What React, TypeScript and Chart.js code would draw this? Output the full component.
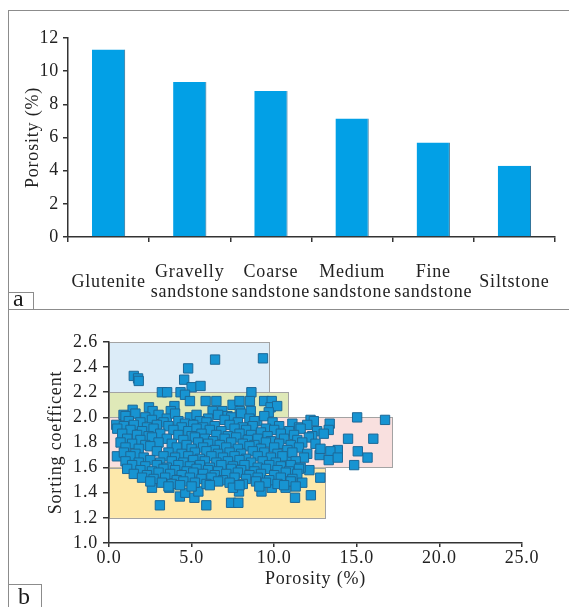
import React, { useEffect, useRef } from 'react';
import { Chart, registerables } from 'chart.js';

Chart.register(...registerables);

const FONT = '"Liberation Serif", "Times New Roman", serif';
const TEXT = '#222222';
const AXIS = '#333333';

// ---------- Panel a data ----------
const rockTypes: string[][] = [
  ['Glutenite'],
  ['Gravelly', 'sandstone'],
  ['Coarse', 'sandstone'],
  ['Medium', 'sandstone'],
  ['Fine', 'sandstone'],
  ['Siltstone'],
];
const meanPorosity = [11.3, 9.35, 8.8, 7.15, 5.7, 4.3];
const porosityBarTicks = [0, 2, 4, 6, 8, 10, 12];

// ---------- Panel b data ----------
const porosityAxisTicks = [0, 5, 10, 15, 20, 25];
const sortingAxisTicks = [1.0, 1.2, 1.4, 1.6, 1.8, 2.0, 2.2, 2.4, 2.6];

const zoneMaxPorosity = [9.7, 10.85, 17.15, 13.1];
const zoneMinSorting = [2.2, 2.0, 1.6, 1.2];
const zoneMaxSorting = [2.6, 2.2, 2.0, 1.6];

const samplePoints: [number, number][] = [
  // scattered upper / outer samples
  [1.5, 2.33], [1.76, 2.31], [1.8, 2.29], [6.42, 2.46], [9.32, 2.47], [4.79, 2.39],
  [4.55, 2.3], [5.0, 2.24], [5.54, 2.25], [3.2, 2.2], [3.52, 2.2], [4.33, 2.2],
  [4.6, 2.18], [4.9, 2.13], [5.85, 2.13], [6.5, 2.13], [8.62, 2.2], [7.48, 2.1],
  [7.9, 2.13], [8.53, 2.13], [9.39, 2.13], [9.85, 2.13], [9.78, 2.08], [10.18, 2.09],
  [9.67, 2.04], [3.96, 2.09], [3.74, 2.05], [2.42, 2.08], [2.64, 2.05], [1.43, 2.06],
  [6.27, 2.05], [6.86, 2.05], [7.92, 2.05], [8.58, 2.05], [7.17, 2.01], [8.97, 1.97],
  [0.88, 2.02], [15.02, 2.0], [16.71, 1.98], [12.2, 1.98], [13.36, 1.95], [13.3, 1.9],
  [14.47, 1.83], [16.0, 1.83], [15.06, 1.73], [15.65, 1.68], [14.84, 1.62], [13.85, 1.74],
  [13.4, 1.73], [12.75, 1.7], [13.3, 1.66], [13.85, 1.68], [12.13, 1.58], [12.79, 1.52],
  [12.22, 1.38], [11.26, 1.36], [3.08, 1.3], [5.89, 1.3], [7.39, 1.32], [7.83, 1.32],
  [4.29, 1.37], [4.62, 1.4], [5.17, 1.36], [5.41, 1.41], [2.6, 1.44], [3.65, 1.44],
  [7.87, 1.41], [9.23, 1.41], [9.85, 1.44], [10.69, 1.44], [10.77, 1.66], [0.48, 1.69],
  [0.44, 1.94],
  // main cluster
  [1.0, 2.01], [1.6, 2.03], [2.2, 2.0], [3.0, 2.02], [3.5, 1.99], [4.0, 2.03], [4.9, 2.0],
  [5.3, 2.02], [6.0, 1.99], [6.6, 2.02], [7.4, 2.0], [8.0, 2.03], [8.5, 1.99], [9.4, 2.01],
  [1.2, 1.97], [1.9, 1.96], [2.6, 1.98], [3.3, 1.96], [4.2, 1.97], [4.6, 1.95], [5.5, 1.97],
  [5.9, 1.96], [7.0, 1.98], [7.8, 1.96], [8.8, 1.97], [9.9, 1.96], [11.1, 1.95], [12.4, 1.97],
  [0.9, 1.93], [1.5, 1.94], [2.3, 1.92], [2.9, 1.94], [3.6, 1.93], [4.4, 1.92], [5.1, 1.94],
  [5.7, 1.92], [6.4, 1.93], [7.3, 1.94], [8.1, 1.92], [8.7, 1.93], [9.5, 1.91], [10.3, 1.93],
  [11.5, 1.92], [12.0, 1.94],
  [0.5, 1.91], [1.3, 1.9], [2.0, 1.89], [2.7, 1.91], [3.9, 1.9], [4.8, 1.89], [5.3, 1.91],
  [6.1, 1.9], [6.8, 1.89], [7.6, 1.91], [8.3, 1.9], [9.2, 1.88], [10.0, 1.9], [10.9, 1.89],
  [11.6, 1.91], [12.6, 1.89],
  [0.8, 1.87], [1.7, 1.86], [2.4, 1.85], [3.1, 1.87], [4.2, 1.86], [5.0, 1.85], [5.6, 1.87],
  [6.5, 1.86], [7.2, 1.85], [7.9, 1.87], [8.6, 1.86], [9.6, 1.85], [10.4, 1.87], [11.2, 1.86],
  [12.3, 1.85], [13.0, 1.87],
  [1.1, 1.83], [1.9, 1.82], [2.6, 1.84], [3.5, 1.83], [4.5, 1.82], [5.2, 1.84], [5.8, 1.83],
  [6.3, 1.81], [7.0, 1.83], [7.7, 1.84], [8.4, 1.82], [9.0, 1.83], [9.8, 1.81], [10.6, 1.83],
  [11.4, 1.82], [12.1, 1.84],
  [0.7, 1.8], [1.4, 1.79], [2.2, 1.78], [3.0, 1.8], [3.8, 1.79], [4.7, 1.78], [5.4, 1.8],
  [6.0, 1.79], [6.7, 1.78], [7.4, 1.8], [8.1, 1.79], [8.8, 1.78], [9.5, 1.8], [10.3, 1.79],
  [11.0, 1.78], [11.7, 1.8], [12.5, 1.79],
  [1.0, 1.76], [1.8, 1.75], [2.5, 1.77], [4.1, 1.76], [5.0, 1.75], [5.7, 1.76], [6.4, 1.74],
  [7.1, 1.76], [7.8, 1.75], [8.5, 1.77], [9.2, 1.75], [10.0, 1.76], [10.8, 1.74], [11.5, 1.76],
  [12.8, 1.75],
  [0.9, 1.72], [1.6, 1.71], [2.9, 1.73], [3.6, 1.72], [4.4, 1.71], [5.2, 1.72], [5.9, 1.73],
  [6.6, 1.71], [7.3, 1.72], [8.0, 1.71], [8.7, 1.73], [9.4, 1.72], [10.2, 1.71], [11.1, 1.72],
  [12.0, 1.71],
  [1.3, 1.69], [2.1, 1.68], [3.3, 1.69], [4.0, 1.68], [4.8, 1.69], [5.5, 1.67], [6.2, 1.69],
  [6.9, 1.68], [7.6, 1.69], [8.3, 1.67], [9.0, 1.69], [9.8, 1.68], [10.5, 1.69], [11.8, 1.68],
  [1.0, 1.65], [1.8, 1.64], [2.5, 1.66], [3.1, 1.64], [3.8, 1.65], [4.5, 1.64], [5.1, 1.66],
  [5.8, 1.65], [6.5, 1.64], [7.2, 1.65], [7.9, 1.66], [8.6, 1.64], [9.3, 1.65], [10.1, 1.64],
  [11.3, 1.65],
  [1.4, 1.62], [2.2, 1.61], [2.9, 1.62], [3.5, 1.6], [4.2, 1.62], [4.9, 1.61], [5.5, 1.62],
  [6.1, 1.6], [6.8, 1.62], [7.5, 1.61], [8.2, 1.62], [9.0, 1.6], [9.7, 1.62], [10.4, 1.61],
  [11.0, 1.62], [11.6, 1.6],
  [1.1, 1.59], [1.9, 1.58], [2.6, 1.57], [3.3, 1.59], [4.0, 1.58], [4.7, 1.57], [5.3, 1.59],
  [6.0, 1.58], [6.6, 1.57], [7.4, 1.59], [8.0, 1.58], [8.8, 1.57], [9.5, 1.59], [10.2, 1.58],
  [10.9, 1.57], [11.5, 1.59],
  [1.5, 1.55], [2.3, 1.54], [3.0, 1.56], [3.7, 1.55], [4.4, 1.54], [5.1, 1.56], [5.7, 1.55],
  [6.4, 1.54], [7.1, 1.55], [7.8, 1.56], [8.5, 1.54], [9.2, 1.55], [10.0, 1.54], [10.7, 1.56],
  [11.4, 1.55],
  [2.0, 1.52], [2.7, 1.51], [3.4, 1.52], [4.1, 1.5], [4.9, 1.52], [5.6, 1.51], [6.2, 1.52],
  [6.9, 1.5], [7.6, 1.52], [8.3, 1.51], [9.0, 1.52], [9.7, 1.5], [10.4, 1.52], [11.1, 1.51],
  [2.5, 1.49], [3.2, 1.48], [3.8, 1.47], [4.5, 1.49], [5.2, 1.48], [5.9, 1.47], [6.6, 1.49],
  [7.3, 1.48], [8.1, 1.47], [8.9, 1.49], [9.5, 1.48], [10.2, 1.47], [11.0, 1.49], [11.7, 1.48],
  [3.6, 1.45], [4.3, 1.46], [5.0, 1.45], [6.1, 1.46], [7.5, 1.44], [7.9, 1.46], [9.1, 1.45],
  [10.6, 1.46], [11.3, 1.45],
];

// ---------- styles ----------
const zoneFills = ['#dcecf8', '#dfe9b8', '#f9e0df', '#fde8aa'];
const LETTER_SPACING = '0.8px';

const spacingPlugin = {
  id: 'letterSpacing',
  beforeLayout(chart: any) {
    chart.ctx.letterSpacing = LETTER_SPACING;
  },
  beforeDraw(chart: any) {
    chart.ctx.letterSpacing = LETTER_SPACING;
  },
};

const zonePlugin = {
  id: 'zones',
  beforeDraw(chart: any) {
    const { ctx, scales } = chart;
    const x = scales.x;
    const y = scales.y;
    ctx.save();
    for (let i = 0; i < zoneMaxPorosity.length; i++) {
      const l = x.getPixelForValue(0);
      const r = x.getPixelForValue(zoneMaxPorosity[i]);
      const t = y.getPixelForValue(zoneMaxSorting[i]);
      const b = y.getPixelForValue(zoneMinSorting[i]);
      ctx.fillStyle = zoneFills[i];
      ctx.fillRect(l, t, r - l, b - t);
      ctx.strokeStyle = '#a3a3a3';
      ctx.lineWidth = 1;
      ctx.strokeRect(Math.round(l) + 0.5, Math.round(t) + 0.5, Math.round(r - l), Math.round(b - t));
    }
    ctx.restore();
  },
};

const tickFont = { family: FONT, size: 18, lineHeight: '20px' };
const titleFont = { family: FONT, size: 18, lineHeight: '20px' };

function BarPanel() {
  const ref = useRef<HTMLCanvasElement>(null);
  useEffect(() => {
    if (!ref.current) return;
    const chart = new Chart(ref.current, {
      type: 'bar',
      data: {
        labels: rockTypes,
        datasets: [
          {
            data: meanPorosity,
            backgroundColor: '#02a0e6',
            borderColor: '#2a6a90',
            borderWidth: { top: 0, left: 0, bottom: 0, right: 1 },
            barPercentage: 0.41,
            categoryPercentage: 1,
          },
        ],
      },
      options: {
        animation: false,
        responsive: false,
        devicePixelRatio: 1,
        layout: { padding: { left: 0, top: 26, right: 14, bottom: 0 } },
        plugins: { legend: { display: false }, tooltip: { enabled: false } },
        scales: {
          x: {
            offset: true,
            grid: { offset: true, drawOnChartArea: false, tickLength: 5, color: AXIS, lineWidth: 1.5 },
            border: { color: AXIS, width: 1.5 },
            ticks: {
              font: tickFont,
              color: TEXT,
              padding: 30,
              crossAlign: 'center',
              maxRotation: 0,
              autoSkip: false,
            },
            afterFit: (s: any) => {
              s.height = 72;
              s.paddingLeft = 0;
              s.paddingRight = 0;
            },
          },
          y: {
            min: 0,
            max: 12,
            afterBuildTicks: (s: any) => {
              s.ticks = porosityBarTicks.map((v) => ({ value: v }));
            },
            grid: { drawOnChartArea: false, tickLength: 5, color: AXIS, lineWidth: 1.5 },
            border: { color: AXIS, width: 1.5 },
            ticks: { font: tickFont, color: TEXT, padding: 4 },
            title: {
              display: true,
              text: 'Porosity (%)',
              font: titleFont,
              color: TEXT,
              padding: { top: 15, bottom: 0 },
            },
            afterFit: (s: any) => {
              s.width = 60;
            },
          },
        },
      },
      plugins: [spacingPlugin],
    } as any);
    return () => chart.destroy();
  }, []);
  return (
    <canvas
      ref={ref}
      width={561}
      height={297}
      style={{ position: 'absolute', left: 8, top: 12, width: 561, height: 297 }}
    />
  );
}

function ScatterPanel() {
  const ref = useRef<HTMLCanvasElement>(null);
  useEffect(() => {
    if (!ref.current) return;
    const chart = new Chart(ref.current, {
      type: 'scatter',
      data: {
        datasets: [
          {
            data: samplePoints.map(([x, y]) => ({ x, y })),
            pointStyle: 'rect',
            pointRadius: 6.6,
            backgroundColor: '#1794d2',
            borderColor: '#1d6897',
            borderWidth: 1,
          },
        ],
      },
      options: {
        animation: false,
        responsive: false,
        devicePixelRatio: 1,
        layout: { padding: { left: 0, top: 31, right: 47, bottom: 0 } },
        plugins: { legend: { display: false }, tooltip: { enabled: false } },
        scales: {
          x: {
            type: 'linear',
            min: 0,
            max: 25,
            afterBuildTicks: (s: any) => {
              s.ticks = porosityAxisTicks.map((v) => ({ value: v }));
            },
            grid: { drawOnChartArea: false, tickLength: 4, color: AXIS, lineWidth: 1.5 },
            border: { color: AXIS, width: 1.5 },
            ticks: {
              font: tickFont,
              color: TEXT,
              padding: 1,
              maxRotation: 0,
              callback: (v: any) => Number(v).toFixed(1),
            },
            title: {
              display: true,
              text: 'Porosity (%)',
              font: titleFont,
              color: TEXT,
              padding: { top: 0, bottom: 18 },
            },
            afterFit: (s: any) => {
              s.height = 64;
            },
          },
          y: {
            type: 'linear',
            min: 1.0,
            max: 2.6,
            afterBuildTicks: (s: any) => {
              s.ticks = sortingAxisTicks.map((v) => ({ value: v }));
            },
            grid: { drawOnChartArea: false, tickLength: 6, color: AXIS, lineWidth: 1.5 },
            border: { color: AXIS, width: 1.5 },
            ticks: {
              font: tickFont,
              color: TEXT,
              padding: 5,
              callback: (v: any) => Number(v).toFixed(1),
            },
            title: {
              display: true,
              text: 'Sorting coefficent',
              font: titleFont,
              color: TEXT,
              padding: { top: 38, bottom: 0 },
            },
            afterFit: (s: any) => {
              s.width = 101;
            },
          },
        },
      },
      plugins: [spacingPlugin, zonePlugin],
    } as any);
    return () => chart.destroy();
  }, []);
  return (
    <canvas
      ref={ref}
      width={561}
      height={296}
      style={{ position: 'absolute', left: 8, top: 311, width: 561, height: 296 }}
    />
  );
}

const line = (style: React.CSSProperties): React.CSSProperties => ({
  position: 'absolute',
  background: '#8c8c8c',
  ...style,
});

export default function App() {
  return (
    <div
      style={{
        position: 'fixed',
        left: 0,
        top: 0,
        width: 569,
        height: 607,
        background: '#ffffff',
        overflow: 'hidden',
      }}
    >
      <BarPanel />
      <ScatterPanel />
      {/* frame lines */}
      <div style={line({ left: 8, top: 10, width: 561, height: 1 })} />
      <div style={line({ left: 8, top: 309, width: 561, height: 1 })} />
      <div style={line({ left: 8, top: 10, width: 1, height: 597 })} />
      {/* panel label a */}
      <div
        style={{
          position: 'absolute',
          left: 8,
          top: 292,
          width: 26,
          height: 17,
          borderTop: '1px solid #8c8c8c',
          borderRight: '1px solid #8c8c8c',
          boxSizing: 'border-box',
        }}
      />
      <div
        style={{
          position: 'absolute',
          left: 13,
          top: 286,
          fontFamily: FONT,
          fontSize: 24,
          lineHeight: '24px',
          color: '#1a1a1a',
        }}
      >
        a
      </div>
      {/* panel label b */}
      <div
        style={{
          position: 'absolute',
          left: 8,
          top: 584,
          width: 34,
          height: 23,
          borderTop: '1px solid #8c8c8c',
          borderRight: '1px solid #8c8c8c',
          boxSizing: 'border-box',
        }}
      />
      <div
        style={{
          position: 'absolute',
          left: 18,
          top: 584,
          fontFamily: FONT,
          fontSize: 24,
          lineHeight: '24px',
          color: '#1a1a1a',
        }}
      >
        b
      </div>
    </div>
  );
}
